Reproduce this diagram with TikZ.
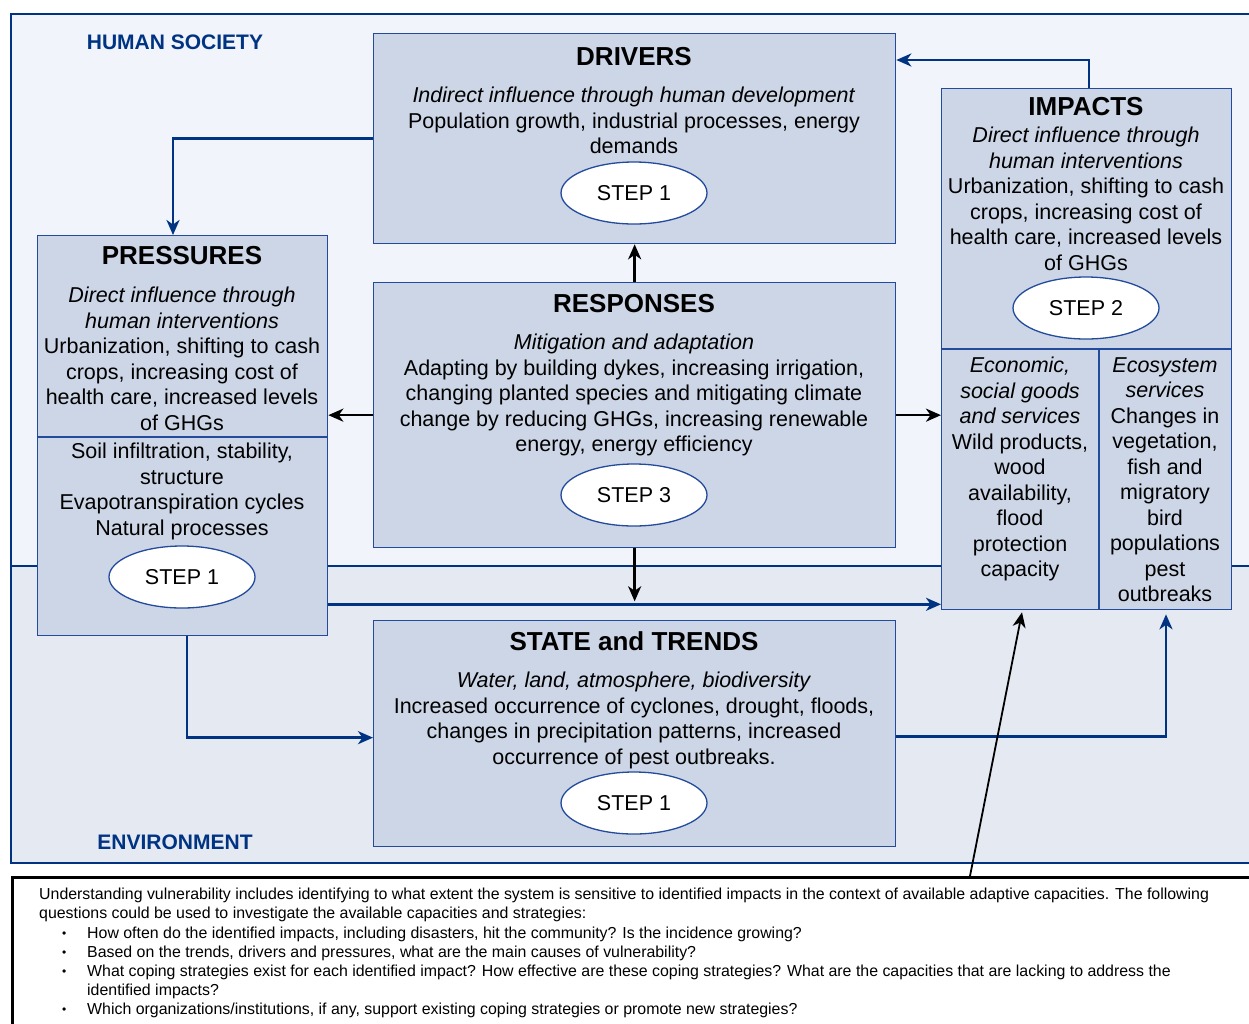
\documentclass[tikz,border=0pt]{standalone}
\usepackage{fontspec}
\setmainfont{Liberation Sans}
\usetikzlibrary{arrows.meta,calc,shapes.geometric}
\definecolor{hsbg}{RGB}{241,244,250}
\definecolor{envbg}{RGB}{228,233,242}
\definecolor{boxfill}{RGB}{205,214,230}
\definecolor{dblue}{RGB}{0,52,130}
\definecolor{bblue}{RGB}{35,75,155}
\newcommand{\smallbul}{\makebox[48pt][l]{\hspace*{23pt}\raisebox{1pt}{\fontsize{12}{12}\selectfont•}}}
\begin{document}
\begin{tikzpicture}[x=1pt,y=-1pt,
 box/.style={draw=bblue, line width=1.3pt, fill=boxfill, rectangle, inner sep=0pt, anchor=north west},
 ttl/.style={font=\bfseries\fontsize{26}{30}\selectfont, inner sep=0pt},
 body/.style={font=\fontsize{21.5}{25.5}\selectfont, align=center, inner sep=0pt, anchor=north},
 stepell/.style={ellipse, draw=bblue, line width=1.3pt, fill=white, minimum width=146pt, minimum height=62pt, inner sep=0pt, font=\fontsize{21.5}{25.5}\selectfont},
 barrow/.style={draw=dblue, line width=2.6pt, -{Stealth[length=15pt,width=13pt,inset=4.5pt]}},
 karrow/.style={draw=black, line width=2.5pt, -{Stealth[length=15pt,width=13pt,inset=4.5pt]}},
 region/.style={font=\bfseries\fontsize{21}{25}\selectfont, text=dblue, inner sep=0pt},
 divline/.style={draw=bblue, line width=1.3pt}
]
\useasboundingbox (0,0) rectangle (1249,1023);
\clip (0,0) rectangle (1249,1023);
% backgrounds
\fill[hsbg] (11,14) rectangle (1270,566);
\fill[envbg] (11,566) rectangle (1270,863);
\draw[dblue, line width=2.2pt] (11,14) rectangle (1270,863);
\draw[dblue, line width=2.2pt] (11,566) -- (1270,566);
\node[region] (hslabel) at (175,42) {HUMAN SOCIETY};
\node[region] (envlabel) at (175,842) {ENVIRONMENT};

% boxes
\node[box, minimum width=522pt, minimum height=210pt] (drivers) at (373,33) {};
\node[box, minimum width=290pt, minimum height=400pt] (pressures) at (37,235) {};
\node[box, minimum width=522pt, minimum height=265pt] (responses) at (373,282) {};
\node[box, minimum width=290pt, minimum height=521pt] (impacts) at (941,88) {};
\node[box, minimum width=522pt, minimum height=226pt] (state) at (373,620) {};

% dividers
\draw[divline] ($(pressures.north west)+(0,202)$) -- ($(pressures.north east)+(0,202)$);
\draw[divline] ($(impacts.north west)+(0,261)$) -- ($(impacts.north east)+(0,261)$);
\draw[divline] ($(impacts.north west)+(158,261)$) -- ($(impacts.south west)+(158,0)$);

% drivers
\node[ttl] (drvT) at (634,57) {DRIVERS};
\node[body] (drvB) at (634,87) {\textit{Indirect influence through human development}\\Population growth, industrial processes, energy\\demands};
\node[stepell] (drvS) at (634,193) {STEP 1};

% pressures
\node[ttl] (preT) at (182,256) {PRESSURES};
\node[body] (preB) at (182,287) {\textit{Direct influence through}\\\textit{human interventions}\\Urbanization, shifting to cash\\crops, increasing cost of\\health care, increased levels\\of GHGs};
\node[body] (preC) at (182,443) {Soil infiltration, stability,\\structure\\Evapotranspiration cycles\\Natural processes};
\node[stepell] (preS) at (182,577) {STEP 1};

% responses
\node[ttl] (resT) at (634,304) {RESPONSES};
\node[body] (resB) at (634,334) {\textit{Mitigation and adaptation}\\Adapting by building dykes, increasing irrigation,\\changing planted species and mitigating climate\\change by reducing GHGs, increasing renewable\\energy, energy efficiency};
\node[stepell] (resS) at (634,495) {STEP 3};

% impacts
\node[ttl] (impT) at (1086,107) {IMPACTS};
\node[body] (impB) at (1086,127) {\textit{Direct influence through}\\\textit{human interventions}\\Urbanization, shifting to cash\\crops, increasing cost of\\health care, increased levels\\of GHGs};
\node[stepell] (impS) at (1086,308) {STEP 2};
\node[body] (impL) at (1020,357) {\textit{Economic,}\\\textit{social goods}\\\textit{and services}\\Wild products,\\wood\\availability,\\flood\\protection\\capacity};
\node[body] (impR) at (1165,357) {\textit{Ecosystem}\\\textit{services}\\Changes in\\vegetation,\\fish and\\migratory\\bird\\populations\\pest\\outbreaks};

% state
\node[ttl] (staT) at (634,641) {STATE and TRENDS};
\node[body] (staB) at (634,672) {\textit{Water, land, atmosphere, biodiversity}\\Increased occurrence of cyclones, drought, floods,\\changes in precipitation patterns, increased\\occurrence of pest outbreaks.};
\node[stepell] (staS) at (634,803) {STEP 1};

% notes box
\node[draw=black, line width=2.5pt, anchor=north west, minimum width=1300pt, minimum height=200pt, inner sep=0pt] (notes) at (11,876) {};
\node[anchor=north west, inner sep=0pt, align=left, font=\fontsize{15.9}{19.2}\selectfont] (notetext) at (39,888) {Understanding vulnerability includes identifying to what extent the system is sensitive to identified impacts in the context of available adaptive capacities. The following\\
questions could be used to investigate the available capacities and strategies:\\
\smallbul How often do the identified impacts, including disasters, hit the community? Is the incidence growing?\\
\smallbul Based on the trends, drivers and pressures, what are the main causes of vulnerability?\\
\smallbul What coping strategies exist for each identified impact? How effective are these coping strategies? What are the capacities that are lacking to address the\\
\hspace*{48pt}identified impacts?\\
\smallbul Which organizations/institutions, if any, support existing coping strategies or promote new strategies?};

% connectors
\draw[barrow] (drivers.west) -| ($(pressures.north west)+(136,0)$);
\draw[barrow] ($(impacts.north west)+(148,0)$) |- ($(drivers.north east)+(0,27)$);
\draw[karrow] (responses.north) -- (drivers.south);
\draw[karrow] (responses.west) -- (responses.west -| pressures.east);
\draw[karrow] (responses.east) -- (responses.east -| impacts.west);
\coordinate (resdown) at ($(responses.south)+(0,53)$);
\draw[karrow] (responses.south) -- (resdown);
\coordinate (pp) at ($(pressures.south east)+(0,-32)$);
\draw[barrow] (pp) -- (pp -| impacts.west);
\coordinate (stw) at ($(state.west)+(0,4)$);
\draw[barrow] ($(pressures.south west)+(150,0)$) |- (stw);
\coordinate (ste) at ($(state.east)+(0,3)$);
\draw[barrow] (ste) -| ($(impacts.south west)+(225,4)$);
\draw[karrow, line width=1.8pt] ($(notes.north west)+(959,0)$) -- ($(impacts.south west)+(81,2)$);
\end{tikzpicture}
\end{document}
